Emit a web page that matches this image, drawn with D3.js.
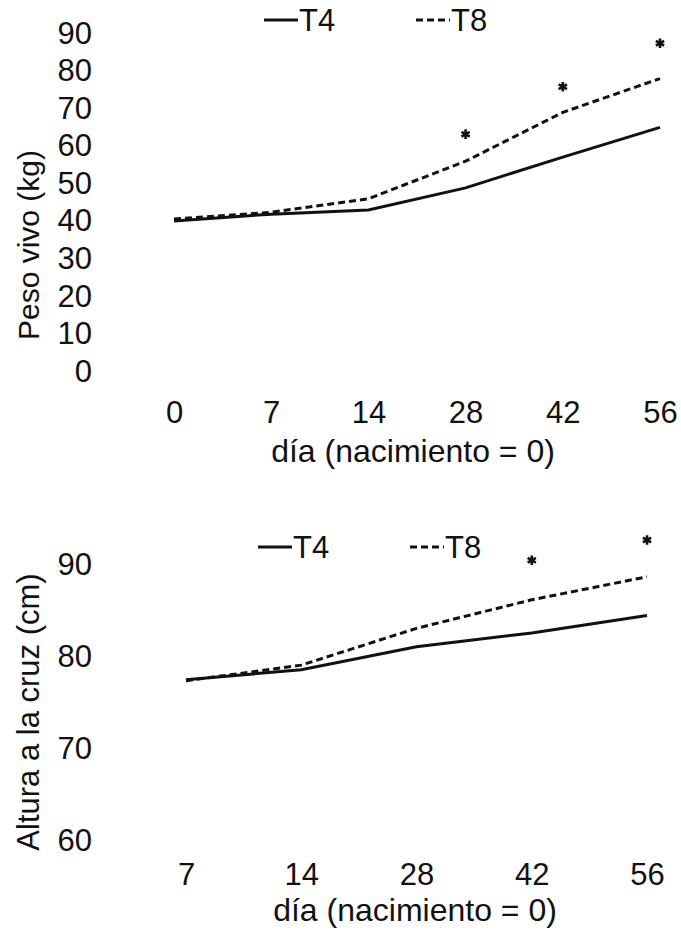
<!DOCTYPE html>
<html>
<head>
<meta charset="UTF-8">
<title></title>
<script src="https://d3js.org/d3.v7.min.js"></script>
<style>
  body { margin: 0; background: #fff; }
  text { font-family: "Liberation Sans", Arial, sans-serif; fill: #111; }
</style>
</head>
<body>
<div id="chart"></div>
<script>
// peso vivo (kg)
var pesoDays = ["0", "7", "14", "28", "42", "56"];
var pesoT4 = [39.7, 41.5, 42.6, 48.5, 56.7, 64.6];
var pesoT8 = [40.2, 42.0, 45.6, 55.6, 68.6, 77.6];
var pesoStarDays = ["28", "42", "56"];
var pesoStarVals = [62.8, 75.4, 87.0];
var pesoTicks = [0, 10, 20, 30, 40, 50, 60, 70, 80, 90];

// altura a la cruz (cm)
var alturaDays = ["7", "14", "28", "42", "56"];
var alturaT4 = [77.3, 78.4, 80.9, 82.4, 84.3];
var alturaT8 = [77.2, 78.9, 82.9, 86.0, 88.5];
var alturaStarDays = ["42", "56"];
var alturaStarVals = [90.3, 92.5];
var alturaTicks = [60, 70, 80, 90];

var series = ["T4", "T8"];

var svg = d3.select("#chart").append("svg")
  .attr("width", 681)
  .attr("height", 930);

function panel(opt) {
  var x = d3.scalePoint().domain(opt.days).range(opt.xRange);
  var y = d3.scaleLinear().domain(opt.yDomain).range(opt.yRange);

  // y axis: labels only, no line or ticks
  var ya = svg.append("g")
    .attr("transform", "translate(96,0)")
    .call(d3.axisLeft(y).tickValues(opt.yTicks).tickSize(0).tickPadding(4));
  ya.select(".domain").remove();
  ya.selectAll("text").style("font-size", "31px").attr("dy", "0.36em");

  var xa = svg.append("g")
    .attr("transform", "translate(0," + opt.xAxisY + ")")
    .call(d3.axisBottom(x).tickSize(0).tickPadding(0));
  xa.select(".domain").remove();
  xa.selectAll("text").style("font-size", "31px");

  svg.append("text")
    .attr("x", opt.xTitle[0]).attr("y", opt.xTitle[1])
    .attr("text-anchor", "middle")
    .style("font-size", "32px")
    .text("día (nacimiento = 0)");

  svg.append("text")
    .attr("transform", "translate(" + opt.yTitle[0] + "," + opt.yTitle[1] + ") rotate(-90)")
    .attr("text-anchor", "middle")
    .attr("dy", "0.36em")
    .style("font-size", opt.yTitleSize)
    .text(opt.yLabel);

  var line = d3.line()
    .x(function(d, i) { return x(opt.days[i]); })
    .y(function(d) { return y(d); });

  svg.append("path").datum(opt.t4)
    .attr("fill", "none").attr("stroke", "#111")
    .attr("stroke-width", 3)
    .attr("d", line);

  svg.append("path").datum(opt.t8)
    .attr("fill", "none").attr("stroke", "#111")
    .attr("stroke-width", 3)
    .attr("stroke-dasharray", "7,4")
    .attr("d", line);

  svg.selectAll(null).data(opt.starVals).enter().append("path")
    .attr("transform", function(d, i) {
      return "translate(" + x(opt.starDays[i]) + "," + y(d) + ")";
    })
    .attr("d", d3.symbol(d3.symbolAsterisk, 64))
    .attr("fill", "none")
    .attr("stroke", "#111")
    .attr("stroke-width", 2.6);

  // legend
  var lg = svg.append("g").attr("transform", "translate(0," + opt.legendY + ")");
  series.forEach(function(s, i) {
    var lx = opt.legendX[i];
    lg.append("line")
      .attr("x1", lx).attr("x2", lx + 34)
      .attr("y1", 0).attr("y2", 0)
      .attr("stroke", "#111").attr("stroke-width", 3)
      .attr("stroke-dasharray", i === 1 ? "7,4" : null);
    lg.append("text")
      .attr("x", lx + 35).attr("y", 0)
      .attr("dy", "0.36em")
      .style("font-size", "31px")
      .text(s);
  });
}

panel({
  days: pesoDays, t4: pesoT4, t8: pesoT8,
  starDays: pesoStarDays, starVals: pesoStarVals,
  yTicks: pesoTicks, yDomain: [0, 90], yRange: [370, 32],
  xRange: [174, 660], xAxisY: 401,
  xTitle: [413, 462], yTitle: [28, 245], yTitleSize: "30px",
  yLabel: "Peso vivo (kg)",
  legendX: [264, 416], legendY: 20
});

panel({
  days: alturaDays, t4: alturaT4, t8: alturaT8,
  starDays: alturaStarDays, starVals: alturaStarVals,
  yTicks: alturaTicks, yDomain: [60, 90], yRange: [839, 563],
  xRange: [186, 647], xAxisY: 863,
  xTitle: [415, 921], yTitle: [28, 712], yTitleSize: "31px",
  yLabel: "Altura a la cruz (cm)",
  legendX: [258, 410], legendY: 547
});
</script>
</body>
</html>
